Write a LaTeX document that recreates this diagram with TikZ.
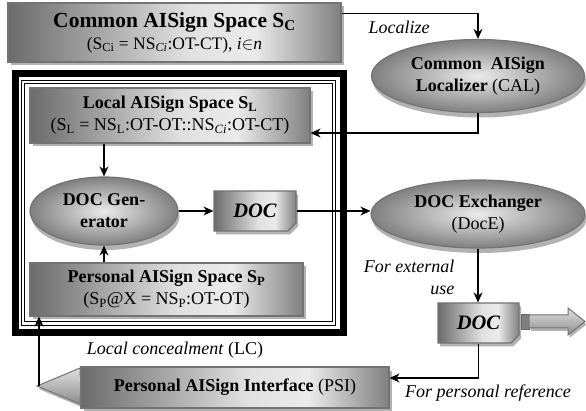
\documentclass[tikz,border=0pt]{standalone}
\usepackage{fontspec}
\setmainfont{Liberation Serif}
\usetikzlibrary{arrows.meta,shapes.geometric,shapes.misc,shadows,calc}

% horizontal metallic shading used by the rectangular panels
\pgfdeclarehorizontalshading{panelshade}{100bp}{%
  color(0bp)=(black!58); color(25bp)=(black!58);
  color(52bp)=(black!12); color(62bp)=(black!8);
  color(75bp)=(black!50); color(100bp)=(black!50)}

\newcommand\basefont{\fontsize{18}{22}\selectfont}

\tikzset{
  panel/.style={draw=black!55, line width=1.2pt, shading=panelshade,
    inner sep=0pt, align=center,
    drop shadow={shadow xshift=2.5pt, shadow yshift=-3.5pt, fill=black!30, opacity=1}},
  oval/.style={ellipse, draw=black!55, line width=1.2pt,
    inner color=black!8, outer color=black!50, inner sep=0pt, align=center,
    drop shadow={shadow xshift=1.5pt, shadow yshift=-5pt, fill=black!30, opacity=1}},
  docbox/.style={chamfered rectangle, chamfered rectangle corners=south east,
    chamfered rectangle xsep=4pt, chamfered rectangle ysep=4pt,
    draw=black!55, line width=1.2pt, shading=panelshade, inner sep=0pt,
    font=\fontsize{20.5}{22}\selectfont\bfseries\itshape,
    drop shadow={shadow xshift=2pt, shadow yshift=-3.5pt, fill=black!30, opacity=1}},
  hollow/.style={draw=black!55, line width=1pt, top color=black!12, bottom color=black!45,
    drop shadow={shadow xshift=1.5pt, shadow yshift=-3pt, fill=black!30, opacity=1}},
  arr/.style={draw, line width=1.3pt, -{Stealth[length=10pt,width=9pt]}},
}

\begin{document}
\begin{tikzpicture}[x=1pt, y=-1pt, every node/.style={font=\basefont}]
\useasboundingbox (0,0) rectangle (586,411);

% local boundary: heavy outer line and thin double line inside it
\draw[line width=7pt] (15,73.5) rectangle (343.5,333);
\draw[line width=1pt, double, double distance=2.4pt] (22.8,82.3) rectangle (334.2,323.7);

% panels and ovals
\node[panel, minimum width=333pt, minimum height=59pt] (SC) at (174.5,32.5)
  {{\fontsize{21.5}{23}\selectfont\bfseries Common AISign Space S\textsubscript{C}}\\
   {\fontsize{17.5}{23}\selectfont (S\textsubscript{Ci} = NS\textsubscript{\textit{Ci}}:OT-CT), \textit{i}$\in$\textit{n}}};

\node[oval, minimum width=213pt, minimum height=73pt] (CAL) at (478,76)
  {\textbf{Common~ AISign}\\ \textbf{Localizer} (CAL)};

\node[panel, minimum width=280pt, minimum height=55pt] (SL) at (170,115.5)
  {\textbf{Local AISign Space S\textsubscript{L}}\\
   (S\textsubscript{L} = NS\textsubscript{L}:OT-OT::NS\textsubscript{\textit{Ci}}:OT-CT)};

\node[oval, minimum width=148pt, minimum height=68pt] (GEN) at (104,211)
  {\textbf{DOC Gen-}\\ \textbf{erator}};

\node[docbox, minimum width=82pt, minimum height=40pt] (D1) at (255,211) {DOC};

\node[oval, minimum width=214pt, minimum height=68pt] (DX) at (478,214)
  {\textbf{DOC Exchanger}\\ (DocE)};

\node[panel, minimum width=273pt, minimum height=53pt] (SP) at (166.5,289.5)
  {\textbf{Personal AISign Space S\textsubscript{P}}\\
   (S\textsubscript{P}@X = NS\textsubscript{P}:OT-OT)};

\node[docbox, minimum width=81pt, minimum height=40pt] (D2) at (478.5,323) {DOC};

% outgoing block arrow after the exchanged DOC
\fill[black!50, draw=black!60, line width=0.6pt] (521,314) rectangle (529,329);
\path[hollow] (529,315) -- (568,315) -- (568,308) -- (585,321.5)
  -- (568,335) -- (568,328) -- (529,328) -- cycle;

% block arrow head on the left of the interface
\path[hollow] (37,386) -- (80,368) -- (80,376) -- (95,376) -- (95,397)
  -- (80,397) -- (80,404) -- cycle;
\coordinate (psitip) at (39,386);

\node[panel, minimum width=308pt, minimum height=41pt] (PSI) at (235,387.5)
  {\textbf{Personal AISign Interface} (PSI)};

% connectors
\draw[arr] ([yshift=-11pt]SC.north east) -| (CAL.north);
\draw[arr] (CAL.south) |- ([yshift=-17.5pt]SL.east);
\draw[arr] (SL.south -| GEN.north) -- (GEN.north);
\draw[arr] (SP.north -| GEN.south) -- (GEN.south);
\draw[arr] (GEN.east) -- (D1.west);
\draw[arr] (D1.east) -- (D1.east -| DX.west);
\draw[arr] (DX.south) -- (DX.south |- D2.north);
\draw[arr] (D2.south) |- ([yshift=9.5pt]PSI.east);
\draw[arr] (psitip) -- (psitip |- SP.south);

% labels
\node[font=\basefont\itshape] (lblloc) at (399,27) {Localize};
\node[font=\basefont\itshape, align=right, anchor=east] (lblext) at (458,277.5) {For external\\use};
\node (lbllc) at (175,350) {\textit{Local concealment} (LC)};
\node[font=\basefont\itshape] (lblref) at (488,393) {For personal reference};
\end{tikzpicture}
\end{document}
